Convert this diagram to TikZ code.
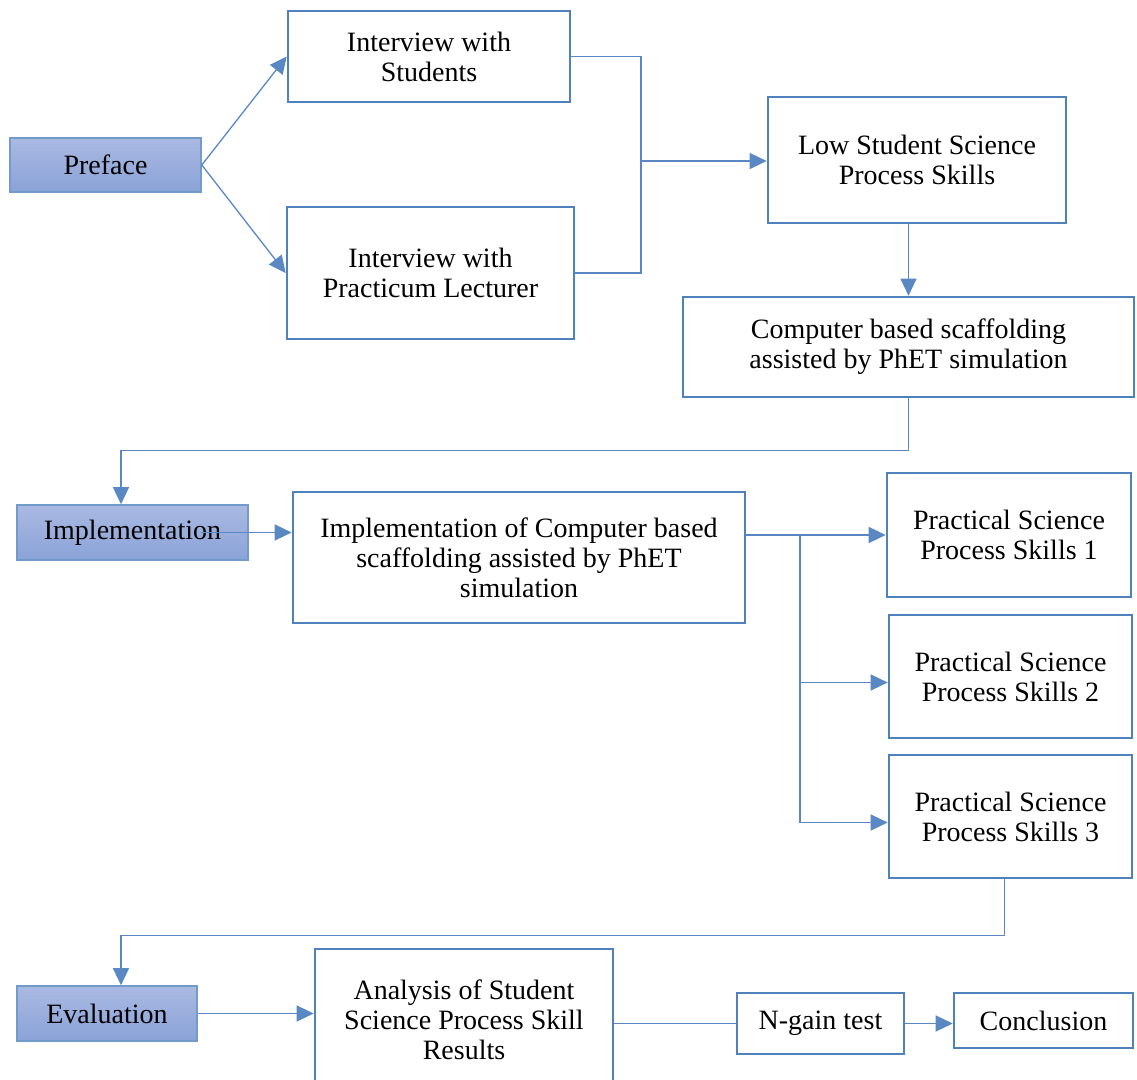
\documentclass[tikz,border=0pt]{standalone}
\usepackage{fontspec}
\setmainfont{Liberation Serif}
\usepackage{tikz}
\usetikzlibrary{arrows.meta,positioning,calc}
\definecolor{boxblue}{HTML}{4F81BD}
\definecolor{lineblue}{HTML}{5A88C4}
\definecolor{shadetop}{HTML}{AAB9E2}
\definecolor{shadebot}{HTML}{8AA3D8}
\tikzset{font=\fontsize{14}{15}\selectfont}
\tikzstyle{stepbox}=[draw=boxblue,line width=1.3pt,align=center,inner sep=0pt]
\tikzstyle{phase}=[draw=boxblue!80,line width=0.8pt,top color=shadetop,bottom color=shadebot,inner sep=0pt]
\tikzstyle{link}=[draw=lineblue,line width=0.65pt,-{Triangle[length=8.5pt,width=8pt]}]
\tikzstyle{plain}=[draw=lineblue,line width=0.65pt]

\begin{document}
\begin{tikzpicture}[x=0.5pt,y=-0.5pt]
\useasboundingbox (0,0) rectangle (1137,1080);
% phases
\node[phase,minimum width=95.5pt,minimum height=27pt] (pref) at (105.5,165) {Preface};
\node[phase,minimum width=115.5pt,minimum height=27.5pt] (impl) at (132.5,532.5) {Implementation};
\node[phase,minimum width=90pt,minimum height=27.5pt] (eval) at (107,1013.5) {Evaluation};
% preface steps
\node[stepbox,minimum width=141pt,minimum height=45.5pt] (intS) at (429,56.5) {Interview with\\Students};
\node[stepbox,minimum width=143.5pt,minimum height=66pt] (intL) at (430.5,273) {Interview with\\Practicum Lecturer};
\node[stepbox,minimum width=149pt,minimum height=63pt] (low) at (917,160) {Low Student Science\\Process Skills};
\node[stepbox,minimum width=225.5pt,minimum height=50pt] (comp) at (908.5,347) {Computer based scaffolding\\assisted by PhET simulation};
% implementation steps
\node[stepbox,minimum width=226pt,minimum height=65.5pt] (implof) at (519,557.5) {Implementation of Computer based\\scaffolding assisted by PhET\\simulation};
\node[stepbox,minimum width=122pt,minimum height=62pt] (ps1) at (1009,535) {Practical Science\\Process Skills 1};
\node[stepbox,minimum width=121.5pt,minimum height=61.5pt] (ps2) at (1010.5,676.5) {Practical Science\\Process Skills 2};
\node[stepbox,minimum width=121.5pt,minimum height=61.5pt] (ps3) at (1010.5,816.5) {Practical Science\\Process Skills 3};
% evaluation steps
\node[stepbox,minimum width=149pt,minimum height=71pt] (anal) at (464,1020) {Analysis of Student\\Science Process Skill\\Results};
\node[stepbox,minimum width=83.5pt,minimum height=30.5pt] (ngain) at (820.5,1023.5) {N-gain test};
\node[stepbox,minimum width=89.5pt,minimum height=27.5pt] (concl) at (1043.5,1020.5) {Conclusion};
% joints
\coordinate (jn) at (641,161);
\coordinate (br) at (800,535);
% connectors
\path[link] (pref.east) -- (intS.west);
\path[link] (pref.east) -- (intL.west);
\path[plain] (intS.east) -| (jn);
\path[plain] (intL.east) -| (jn);
\path[link] (jn) -- (jn -| low.west);
\path[link] (comp.north |- low.south) -- (comp.north);
\path[link] (comp.south) -- ++(0,52) -| ([xshift=-5.75pt]impl.north);
\path[link] ([xshift=-24pt]impl.east) -- (impl.east -| implof.west);
\path[link] (implof.east |- ps1.west) -- (ps1.west);
\path[link] (br) |- ([yshift=-3pt]ps2.west);
\path[link] (br) |- ([yshift=-3pt]ps3.west);
\path[link] ([xshift=-3pt]ps3.south) -- ++(0,56) -| ([xshift=7pt]eval.north);
\path[link] (eval.east) -- (eval.east -| anal.west);
\path[plain] (anal.east |- ngain.west) -- (ngain.west);
\path[link] (ngain.east) -- (ngain.east -| concl.west);
\end{tikzpicture}
\end{document}
